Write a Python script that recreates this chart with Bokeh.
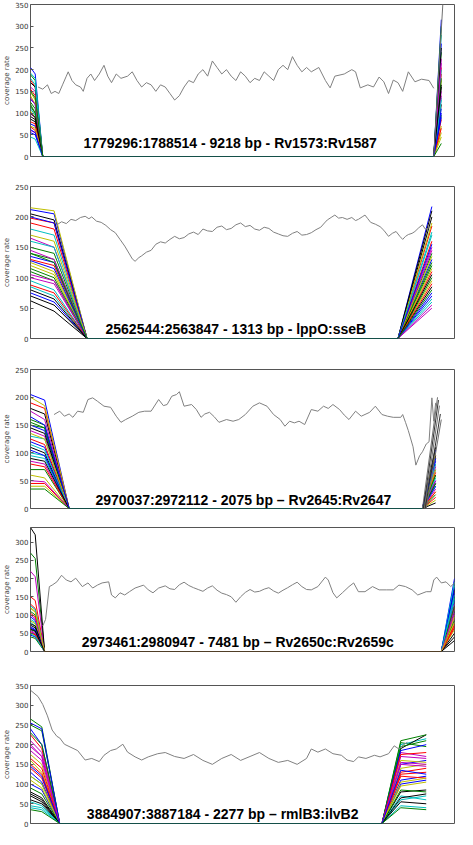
from bokeh.plotting import figure
from bokeh.layouts import column
from bokeh.models import FixedTicker, Range1d
from bokeh.core.properties import value
from bokeh.embed import file_html
from bokeh.resources import INLINE

MPL_COLORS = ["#0000ff", "#008000", "#ff0000", "#00bfbf", "#bf00bf", "#bfbf00", "#000000"]
GRAY = "#808080"

# ---------------- Panel 1 ----------------
p1_title = "1779296:1788514  - 9218 bp - Rv1573:Rv1587"
p1_ymax = 350
p1_yticks = [0, 50, 100, 150, 200, 250, 300, 350]
p1_gray_x = [8, 13, 18, 22, 26, 30, 34, 38, 40, 44, 48, 53, 56, 60, 64, 68, 73, 78, 82, 86,
             91, 96, 103, 108, 113, 118, 123, 128, 133, 138, 143, 148, 153, 158, 163, 168, 173, 178, 183, 188,
             193, 198, 203, 208, 213, 218, 223, 228, 233, 238, 243, 248, 253, 258, 263, 268, 273, 278, 283, 288,
             293, 298, 306, 313, 318, 323, 333, 341, 345, 350, 358, 364, 370, 375, 380, 385, 390, 395, 401, 408,
             415, 423, 428]
p1_gray_y = [160, 155, 165, 145, 150, 145, 165, 185, 195, 175, 165, 160, 150, 180, 190, 175, 190, 210, 185, 170,
             190, 180, 185, 195, 175, 160, 170, 165, 150, 165, 160, 145, 130, 140, 160, 175, 170, 190, 200, 185,
             220, 205, 190, 200, 185, 175, 195, 185, 170, 180, 175, 195, 185, 175, 200, 210, 200, 230, 210, 195,
             205, 195, 205, 175, 158, 185, 190, 200, 195, 158, 165, 160, 183, 172, 145, 176, 170, 150, 195, 172,
             178, 175, 157]
p1_left_start = [205, 188, 176, 192, 160, 148, 170, 132, 120, 155, 110, 98, 140, 86, 75, 125, 68, 180, 60, 105,
                 92, 55, 115, 80, 45, 135, 70, 100, 62, 150]
p1_left_knee = [190, 175, 160, 180, 150, 130, 160, 120, 100, 140, 95, 90, 120, 80, 70, 110, 60, 165, 55, 90,
                85, 50, 100, 75, 40, 120, 65, 90, 55, 135]
p1_right_end = [315, 240, 205, 280, 150, 175, 120, 260, 95, 190, 135, 225, 70, 160, 110, 300, 85, 200, 140, 55,
                250, 100, 180, 65, 130, 215, 45, 165, 90, 30]
p1_gray_edge_end = [365]
p1_pos = dict(knee_l=5, zero_l=13, zero_r=428, end_r=436, text_x=214, text_y=32)

# ---------------- Panel 2 ----------------
p2_title = "2562544:2563847  - 1313 bp - lppO:sseB"
p2_ymax = 250
p2_yticks = [0, 50, 100, 150, 200, 250]
p2_gray_x = [28, 33, 38, 43, 48, 53, 58, 62, 65, 70, 75, 80, 85, 90, 95, 100, 105, 108, 111, 115,
             118, 123, 128, 133, 138, 143, 148, 153, 158, 163, 168, 173, 178, 183, 188, 193, 198, 203, 208, 213,
             218, 223, 228, 233, 238, 243, 248, 253, 258, 263, 268, 273, 278, 283, 288, 293, 298, 303, 308, 312,
             315, 319, 323, 327, 331, 336, 341, 345, 348, 352, 355, 358, 361, 366, 371, 375, 380, 384, 388, 392,
             395, 398, 401, 405, 408, 412, 416, 419, 423]
p2_gray_y = [187, 192, 189, 196, 194, 199, 201, 197, 200, 193, 191, 186, 179, 174, 163, 152, 139, 131, 127, 133,
             136, 142, 145, 155, 159, 157, 163, 168, 164, 166, 172, 175, 171, 180, 177, 176, 183, 185, 179, 181,
             187, 190, 184, 186, 180, 178, 183, 181, 175, 172, 169, 168, 173, 176, 170, 171, 174, 179, 183, 190,
             195, 199, 203, 198, 199, 196, 199, 194, 196, 200, 203, 197, 191, 188, 184, 178, 168, 173, 176, 168,
             163, 168, 171, 173, 176, 182, 187, 180, 182]
p2_left_start = [212, 140, 198, 85, 165, 120, 205, 75, 150, 130, 180, 100, 215, 62, 135, 110, 190, 95, 145, 125,
                 70, 200, 115, 88, 160, 105, 170, 80, 128, 140]
p2_left_knee = [205, 130, 190, 70, 150, 105, 195, 60, 140, 120, 170, 90, 210, 45, 125, 95, 180, 80, 130, 110,
                55, 190, 100, 75, 150, 95, 160, 65, 115, 125]
p2_right_end = [217, 120, 185, 60, 150, 95, 200, 75, 140, 110, 170, 50, 190, 85, 130, 100, 160, 65, 145, 115,
                210, 70, 125, 90, 175, 55, 135, 105, 155, 80]
p2_pos = dict(knee_l=25, zero_l=60, zero_r=390, end_r=426, text_x=220, text_y=16)

# ---------------- Panel 3 ----------------
p3_title = "2970037:2972112  - 2075 bp \u2013 Rv2645:Rv2647"
p3_ymax = 250
p3_yticks = [0, 50, 100, 150, 200, 250]
p3_gray_x = [25, 31, 36, 41, 45, 50, 56, 61, 66, 71, 78, 85, 91, 96, 101, 108, 115, 121, 128, 136,
             141, 145, 150, 155, 158, 163, 171, 176, 181, 185, 190, 195, 200, 208, 215, 221, 228, 236, 243, 251,
             258, 265, 270, 275, 280, 285, 291, 298, 305, 311, 316, 321, 328, 333, 338, 345, 351, 360, 366, 373,
             379, 385, 393, 395, 398, 401, 406, 409, 413, 416, 420, 423, 426, 428, 430]
p3_gray_y = [169, 175, 166, 170, 164, 175, 173, 196, 199, 193, 184, 182, 166, 155, 160, 166, 173, 175, 175, 196,
             185, 187, 202, 205, 210, 184, 187, 178, 164, 170, 173, 165, 155, 160, 157, 160, 169, 184, 190, 184,
             169, 160, 148, 157, 154, 157, 151, 178, 175, 184, 180, 187, 178, 168, 160, 175, 166, 173, 184, 169,
             166, 164, 164, 169, 155, 140, 111, 78, 95, 102, 116, 120, 199, 157, 190]
p3_left_start = [205, 150, 190, 100, 140, 60, 180, 120, 160, 45, 130, 85, 200, 110, 150, 70, 125, 95, 175, 40,
                 145, 105, 155, 80, 115, 50, 135, 90, 165, 35]
p3_left_knee = [195, 145, 180, 95, 130, 55, 170, 110, 150, 45, 125, 80, 185, 100, 140, 70, 115, 90, 160, 40,
                135, 95, 145, 75, 105, 48, 125, 85, 150, 35]
p3_right_end = [105, 60, 95, 40, 80, 30, 110, 50, 90, 20, 70, 35, 100, 45, 85, 25, 65, 55, 75, 15,
                95, 40, 60, 30, 80, 50, 70, 10, 90, 45]
p3_gray_edge_end = [200, 195, 185, 170, 160]
p3_pos = dict(knee_l=15, zero_l=41, zero_r=416, end_r=430, text_x=228, text_y=16)

# ---------------- Panel 4 ----------------
p4_title = "2973461:2980947  - 7481 bp \u2013 Rv2650c:Rv2659c"
p4_ymax = 340
p4_yticks = [0, 50, 100, 150, 200, 250, 300]
p4_gray_x = [13, 16, 20, 23, 28, 33, 38, 43, 48, 55, 61, 66, 71, 76, 83, 86, 90, 95, 100, 105,
             111, 120, 125, 130, 136, 143, 148, 153, 158, 163, 168, 173, 178, 183, 188, 193, 198, 203, 208, 213,
             218, 223, 228, 233, 238, 243, 248, 253, 258, 263, 268, 273, 278, 283, 288, 293, 298, 305, 313, 316,
             321, 325, 331, 338, 343, 348, 355, 363, 370, 378, 385, 391, 398, 405, 411, 420, 425, 428, 431, 436,
             441, 446, 450]
p4_gray_y = [70, 88, 178, 182, 191, 209, 196, 191, 201, 178, 188, 174, 182, 188, 191, 155, 147, 161, 155, 164,
             174, 182, 169, 161, 174, 180, 172, 170, 183, 190, 181, 175, 170, 165, 174, 180, 168, 160, 156, 150,
             135, 150, 162, 170, 163, 165, 171, 175, 166, 160, 168, 175, 183, 190, 178, 170, 169, 178, 204, 196,
             161, 147, 161, 178, 188, 164, 164, 178, 169, 169, 169, 182, 178, 169, 155, 164, 164, 196, 204, 188,
             191, 178, 188]
p4_left_start = [95, 270, 150, 80, 220, 120, 340, 65, 110, 130, 88, 58, 50, 72, 45, 40, 105, 125, 55, 84,
                 76, 68, 60, 52, 48, 100, 118, 62]
p4_left_knee = [85, 255, 140, 70, 205, 110, 320, 58, 100, 118, 80, 50, 45, 65, 40, 36, 95, 115, 48, 76,
                70, 60, 55, 46, 42, 90, 108, 56]
p4_right_end = [200, 150, 120, 180, 90, 60, 170, 140, 110, 75, 190, 130, 100, 50, 160, 85, 65, 145, 115, 95,
                40, 175, 125, 70, 155, 105, 80, 30]
p4_pos = dict(knee_l=5, zero_l=15, zero_r=436, end_r=450, text_x=222, text_y=27)

# ---------------- Panel 5 ----------------
p5_title = "3884907:3887184  - 2277 bp \u2013 rmlB3:ilvB2"
p5_ymax = 350
p5_yticks = [0, 50, 100, 150, 200, 250, 300, 350]
p5_gray_x = [0, 8, 13, 18, 23, 28, 31, 36, 43, 50, 58, 65, 73, 78, 85, 91, 98, 103, 111, 118,
             125, 135, 143, 153, 163, 173, 183, 193, 203, 213, 223, 233, 243, 253, 263, 273, 283, 293, 298, 305,
             313, 321, 330, 336, 343, 348, 356, 365, 371, 380, 386, 391, 396, 400]
p5_gray_y = [338, 322, 302, 273, 237, 221, 217, 201, 193, 185, 161, 165, 157, 173, 185, 189, 201, 181, 169, 161,
             169, 177, 180, 170, 165, 175, 160, 150, 165, 175, 160, 170, 180, 165, 155, 160, 150, 165, 189, 181,
             189, 177, 173, 161, 157, 169, 165, 173, 169, 177, 197, 189, 200, 206]
p5_left_start = [240, 265, 225, 120, 195, 160, 80, 100, 250, 150, 45, 210, 175, 60, 130, 230, 140, 55, 185, 110,
                 70, 255, 90, 165, 40, 200, 120, 75, 145, 35]
p5_left_knee = [200, 245, 190, 100, 170, 130, 65, 85, 235, 125, 40, 180, 150, 50, 105, 200, 115, 45, 160, 90,
                55, 240, 75, 140, 35, 170, 100, 60, 120, 30]
p5_right_knee = [150, 205, 130, 200, 180, 160, 190, 110, 195, 120, 60, 170, 140, 80, 100, 210, 125, 70, 150, 95,
                 55, 185, 85, 175, 45, 155, 105, 65, 135, 40]
p5_right_end = [160, 195, 140, 215, 170, 155, 225, 120, 210, 115, 70, 165, 150, 85, 110, 225, 130, 60, 145, 105,
                50, 200, 80, 180, 40, 150, 115, 75, 125, 35]
p5_pos = dict(knee_l=12, zero_l=31, zero_r=373, knee_r=393, end_r=420, text_x=206, text_y=25)

X_MAX = 450

panels = [
    dict(title=p1_title, ymax=p1_ymax, yticks=p1_yticks, gx=p1_gray_x, gy=p1_gray_y,
         ls=p1_left_start, lk=p1_left_knee, rk=None, re=p1_right_end, edge=p1_gray_edge_end, pos=p1_pos,
         h=171, bt=4, bb=15),
    dict(title=p2_title, ymax=p2_ymax, yticks=p2_yticks, gx=p2_gray_x, gy=p2_gray_y,
         ls=p2_left_start, lk=p2_left_knee, rk=None, re=p2_right_end, edge=[], pos=p2_pos,
         h=182, bt=15, bb=15),
    dict(title=p3_title, ymax=p3_ymax, yticks=p3_yticks, gx=p3_gray_x, gy=p3_gray_y,
         ls=p3_left_start, lk=p3_left_knee, rk=None, re=p3_right_end, edge=p3_gray_edge_end, pos=p3_pos,
         h=164, bt=16, bb=9),
    dict(title=p4_title, ymax=p4_ymax, yticks=p4_yticks, gx=p4_gray_x, gy=p4_gray_y,
         ls=p4_left_start, lk=p4_left_knee, rk=None, re=p4_right_end, edge=[], pos=p4_pos,
         h=151, bt=10, bb=17),
    dict(title=p5_title, ymax=p5_ymax, yticks=p5_yticks, gx=p5_gray_x, gy=p5_gray_y,
         ls=p5_left_start, lk=p5_left_knee, rk=p5_right_knee, re=p5_right_end, edge=[], pos=p5_pos,
         h=161, bt=17, bb=6),
]

figs = []
for cfg in panels:
    pos = cfg["pos"]
    p = figure(width=456, height=cfg["h"], output_backend="svg", toolbar_location=None,
               x_range=Range1d(0, X_MAX), y_range=Range1d(0, cfg["ymax"]),
               min_border_left=20, min_border_right=2,
               min_border_top=cfg["bt"], min_border_bottom=cfg["bb"])
    p.xaxis.visible = False
    p.grid.visible = False
    p.outline_line_color = "#555555"
    p.outline_line_width = 1
    p.background_fill_color = "white"
    p.border_fill_color = "white"
    ya = p.yaxis[0]
    ya.ticker = FixedTicker(ticks=cfg["yticks"])
    ya.axis_label = "coverage rate"
    ya.axis_label_text_font = "DejaVu Sans"
    ya.axis_label_text_font_size = "7px"
    ya.axis_label_text_font_style = "normal"
    ya.axis_label_standoff = 1
    ya.major_label_text_font = "DejaVu Sans"
    ya.major_label_text_font_size = "7px"
    ya.major_label_text_color = "#333333"
    ya.major_label_standoff = 2
    ya.major_tick_in = 3
    ya.major_tick_out = 0
    ya.minor_tick_line_color = None
    ya.axis_line_color = None
    ya.major_tick_line_color = "#555555"

    xs, ys, cols = [], [], []
    for i, (v0, v1) in enumerate(zip(cfg["ls"], cfg["lk"])):
        w2 = cfg["re"][i]
        if cfg["rk"] is not None:
            w1 = cfg["rk"][i]
            x = [0, pos["knee_l"], pos["zero_l"], pos["zero_r"], pos["knee_r"], pos["end_r"]]
            y = [v0, v1, 0, 0, w1, w2]
        else:
            x = [0, pos["knee_l"], pos["zero_l"], pos["zero_r"], pos["end_r"]]
            y = [v0, v1, 0, 0, w2]
        xs.append(x)
        ys.append(y)
        cols.append(MPL_COLORS[i % len(MPL_COLORS)])
    p.multi_line(xs=xs, ys=ys, line_color=cols, line_width=1)

    for j, e in enumerate(cfg["edge"]):
        p.line(x=[pos["zero_r"] + j, pos["end_r"] + 2 + j], y=[0, e],
               line_color=["#707070", "#303030"][j % 2], line_width=1)

    p.line(x=cfg["gx"], y=cfg["gy"], line_color=GRAY, line_width=1)

    p.text(x=[pos["text_x"]], y=[pos["text_y"]], text=[cfg["title"]],
           text_font=value("Liberation Sans"), text_font_style="bold",
           text_font_size="14px", text_align="center", text_baseline="alphabetic",
           text_color="black")
    figs.append(p)

layout = column(*figs, spacing=0)
open("out.html", "w").write(file_html(layout, INLINE))
